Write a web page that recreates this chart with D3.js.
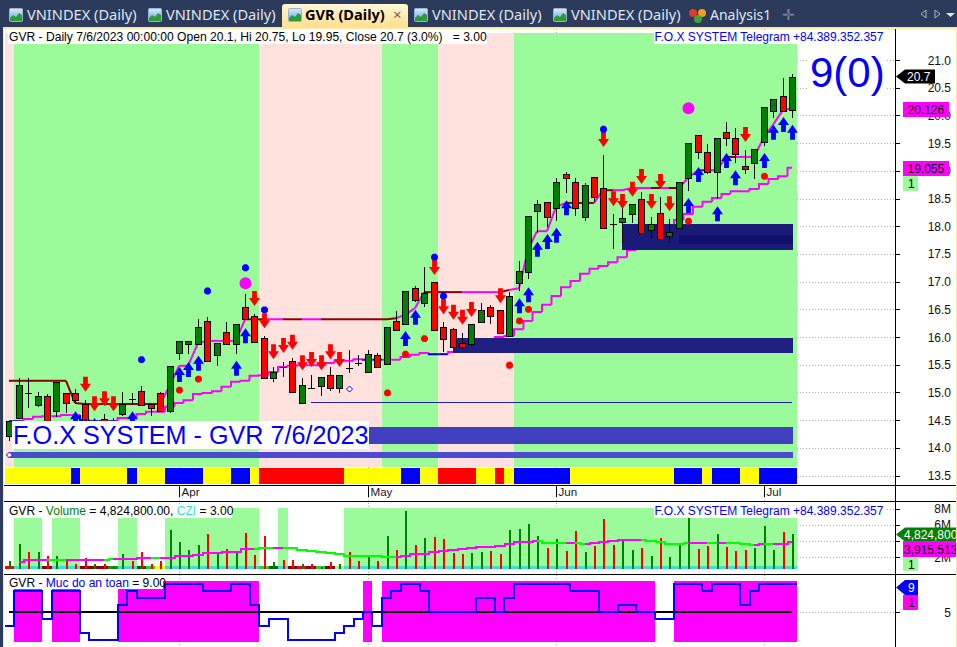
<!DOCTYPE html>
<html><head><meta charset="utf-8">
<script src="https://cdnjs.cloudflare.com/ajax/libs/d3/7.8.5/d3.min.js"></script>
<style>html,body{margin:0;padding:0;background:#fff;overflow:hidden}svg{display:block}text{font-family:"Liberation Sans",Arial,sans-serif}</style>
</head><body><svg id="c" width="957" height="647"></svg>
<script>
// ---------- data ----------
const opens=[14.21,14.53,14.99,14.77,14.94,14.66,14.99,14.99,14.79,14.32,14.52,14.32,14.61,14.88,15.02,14.79,14.99,14.66,15.71,15.87,15.87,16.29,15.68,16.09,15.87,16.54,16.38,15.98,15.26,15.46,15.57,14.81,15.08,15.11,15.31,15.08,15.44,15.53,15.37,15.68,15.51,16.29,16.23,16.88,16.61,16.99,16.18,16.14,15.89,15.87,16.27,16.54,16.49,16.02,16.97,17.17,18.27,18.44,18.33,18.94,18.80,18.17,18.89,18.69,18.04,18.08,18.22,18.49,17.93,18.24,17.82,17.97,18.87,19.65,19.34,18.98,19.70,19.59,19.09,19.14,19.52,20.08,20.35,20.10];
const highs=[14.48,15.26,15.26,15.01,14.97,15.19,14.99,15.06,14.86,14.50,14.61,14.54,15.01,14.99,15.11,14.81,15.01,15.48,15.93,15.93,16.32,16.36,15.89,16.27,16.23,16.78,16.41,16.02,15.46,15.55,15.62,15.26,15.31,15.28,15.46,15.31,15.76,15.68,15.76,15.71,16.18,16.47,16.83,16.92,17.26,16.99,16.27,16.16,16.07,16.23,16.61,16.58,16.49,16.81,17.37,18.18,18.47,18.44,18.87,18.98,18.87,18.78,18.89,19.28,18.22,18.33,18.40,18.62,18.17,18.53,18.13,18.80,19.50,19.65,19.48,19.59,19.88,19.77,19.38,19.39,20.15,20.30,20.68,20.75];
const lows=[14.12,14.52,14.72,14.74,14.38,14.56,14.63,14.79,14.43,14.28,14.28,14.27,14.57,14.77,14.77,14.57,14.65,14.63,15.59,15.69,15.87,15.57,15.48,15.87,15.69,16.32,15.91,15.26,15.19,15.28,14.99,14.81,15.08,14.94,15.02,14.99,15.35,15.48,15.37,15.44,15.51,16.13,16.23,16.63,16.54,16.13,15.73,15.82,15.78,15.84,16.27,16.23,16.07,16.02,16.83,17.05,17.88,17.99,18.09,18.60,18.18,18.09,18.44,17.97,17.59,17.70,18.06,17.88,17.79,17.77,17.70,17.97,18.63,19.21,18.94,18.49,19.45,19.14,18.94,18.85,19.45,19.95,20.08,19.95];
const closes=[14.48,15.13,14.99,14.94,14.41,15.19,14.81,14.86,14.47,14.47,14.32,14.47,14.79,14.88,14.77,14.72,14.66,15.48,15.93,15.93,16.18,15.57,15.89,15.87,16.23,16.32,15.91,15.26,15.37,15.46,15.01,15.13,15.08,15.28,15.08,15.31,15.44,15.53,15.69,15.46,16.18,16.13,16.83,16.67,16.79,16.13,15.96,15.82,15.82,16.23,16.49,16.38,16.07,16.74,17.19,18.18,18.40,18.17,18.80,18.87,18.33,18.74,18.53,17.97,18.04,18.15,18.40,17.88,18.04,17.77,17.90,18.80,19.50,19.34,18.98,19.59,19.59,19.30,19.03,19.39,20.15,20.30,20.08,20.70];
const volumes=[1.54,3.7,2.73,2.64,2.15,2.15,1.75,1.26,1.91,1.17,1.17,0.93,2.48,1.54,2.73,1.26,1.54,5.42,3.87,2.97,3.5,4.85,2.4,3.1,2.68,4.97,2.28,4.6,1.42,1.66,1.75,1.26,1.26,0.85,1.42,1.17,2.64,1.54,2.15,1.54,4.6,2.97,7.66,3.5,4.36,4.48,4.23,2.52,2.4,2.52,2.64,2.77,2.4,5.34,5.46,6.07,4.6,3.13,4.23,2.77,5.21,2.64,3.38,6.68,3.5,3.99,2.89,3.13,2.15,4.36,2.03,3.5,6.8,3.01,3.38,4.85,3.26,2.77,2.89,3.13,5.83,2.89,5.09,4.8248];
const volumeMA=[null,1.46,1.71,1.71,1.71,1.71,1.75,1.75,1.75,1.75,1.75,1.83,1.83,1.87,1.95,1.95,1.91,1.99,2.15,2.19,2.28,2.56,2.56,2.64,2.73,3.01,3.05,3.17,3.17,3.17,3.13,2.97,2.81,2.64,2.52,2.40,2.24,2.19,2.19,2.15,2.07,2.07,2.15,2.40,2.48,2.68,2.77,2.97,3.05,3.17,3.30,3.34,3.42,3.70,3.87,3.91,4.03,3.83,3.79,3.79,3.75,3.66,3.79,3.91,4.03,4.15,4.19,4.19,4.07,3.91,3.70,3.70,3.79,3.79,3.79,3.79,3.79,3.79,3.66,3.58,3.62,3.66,3.70,3.915513];
const maGreenBars=[5,6,11,16,27,28,30,31,32,33,34,35,36,37,38,39,40,41,57,58,59,61,68,69,70,71,72,75,77,78,79,81];
const upperLine=[15.21,15.21,15.21,15.21,15.21,15.21,15.21,14.81,14.79,14.79,14.79,14.79,14.79,14.79,14.79,14.79,14.79,15.13,15.48,15.48,15.89,15.93,15.93,15.93,15.93,16.32,16.32,16.32,16.32,16.32,16.32,16.32,16.32,16.32,16.32,16.32,16.32,16.32,16.32,16.32,16.32,16.34,16.40,16.52,16.81,16.81,16.81,16.81,16.81,16.81,16.81,16.81,16.81,16.85,16.88,17.57,17.91,17.91,18.35,18.42,18.42,18.42,18.42,18.65,18.65,18.65,18.69,18.69,18.69,18.69,18.69,18.69,18.87,19.01,19.01,19.01,19.25,19.25,19.25,19.25,19.61,19.83,20.10,20.126];
const upperDarkBars=[1,2,3,4,5,6,7,8,9,10,11,12,13,14,15,16,26,27,30,31,34,35,36,37,38,39,40,41,45,46,47,48,53,60,61,62,64,69,71,74,77];
const lowerLine=[14.48,14.48,14.52,14.56,14.57,14.57,14.59,14.59,14.50,14.48,14.48,14.48,14.54,14.54,14.61,14.65,14.65,14.74,14.81,14.86,14.97,14.99,15.02,15.10,15.19,15.21,15.30,15.31,15.37,15.46,15.48,15.49,15.49,15.49,15.53,15.57,15.57,15.60,15.59,15.59,15.59,15.59,15.64,15.68,15.71,15.69,15.69,15.73,15.80,15.86,15.91,15.95,16.00,16.02,16.14,16.29,16.45,16.58,16.74,16.90,17.01,17.14,17.23,17.28,17.35,17.44,17.57,17.66,17.75,17.88,18.00,18.11,18.22,18.35,18.44,18.51,18.58,18.63,18.63,18.67,18.76,18.85,18.90,19.055];
const lowerBlueBars=[1,8,9,10,11,38,39,45,46];
const safetyLevel=[3,8,8,8,4,8,8,8,2,1,1,1,6,8,7,7,7,9,9,9,9,8,8,8,9,9,6,3,4,4,1,1,1,1,1,2,3,4,5,3,7,8,9,9,8,5,5,5,5,5,7,7,5,7,9,9,9,9,9,9,8,8,8,5,5,6,6,5,5,4,4,9,9,9,8,9,9,9,6,8,9,9,9,9];
// [bar, price of the arrow tip]
const buyArrows=[[7,14.66],[8,14.54],[9,14.54],[11,14.52],[13,14.66],[17,14.48],[18,15.46],[19,15.55],[20,15.66],[24,15.57],[25,16.16],[42,16.11],[43,16.49],[54,16.70],[55,16.90],[56,17.72],[57,17.86],[58,17.97],[59,18.47],[72,18.51],[73,19.07],[75,18.36],[76,19.32],[77,19.01],[80,19.32],[81,19.83],[82,19.97],[83,19.83]];
const sellArrows=[[1,13.98],[8,15.01],[9,14.66],[10,14.75],[11,14.66],[26,16.56],[27,16.16],[28,15.60],[29,15.71],[30,15.77],[31,15.40],[32,15.46],[33,15.40],[34,15.60],[35,15.46],[45,17.12],[46,16.41],[47,16.31],[48,16.22],[49,16.36],[52,16.61],[63,19.43],[64,18.36],[65,18.31],[66,18.53],[67,18.76],[68,18.31],[69,18.67],[70,18.27],[78,19.52]];
const blueDots=[[14,15.59],[21,16.83],[25,17.25],[27,16.49],[45,17.44],[46,16.74],[63,19.75]];
const redDots=[[18,15.04],[20,15.24],[40,14.99],[42,15.69],[44,15.97],[53,15.49],[54,16.29],[55,16.50],[72,18.09],[80,18.90]];
const hollowDots=[[0,13.87],[36,15.06]];
const bigDots=[[8,14.09],[25,16.97],[72,20.13]];
const zones=[
 {from:0,to:83,top:13.92,bottom:13.82,fill:"#4b4bd2"},
 {from:38,to:83,top:14.38,bottom:14.07,fill:"#4040c0"},
 {from:47,to:83,top:15.98,bottom:15.71,fill:"#1f1f80"},
 {from:65,to:83,top:18.04,bottom:17.57,fill:"#1a1a78"},
 {from:71,to:83,top:17.84,bottom:17.68,fill:"#10106c"}];
const supportLevel=14.82, supportFrom=32;
const priceRegime=[["p",1],["g",26],["p",13],["g",6],["p",8],["g",30]];
const volumeRegimeGreen=[[1,3],[5,7],[12,13],[17,26],[29,29],[36,83]];
const safetyRegime=[[1,3],[5,7],[12,26],[38,38],[40,68],[71,83]];
const signalRuns=[["y",7],["b",1],["y",5],["b",1],["y",3],["b",4],["y",3],["b",2],["y",1],["r",9],["y",6],["b",2],["y",2],["r",4],["y",2],["r",1],["y",1],["b",6],["y",11],["b",3],["y",1],["b",3],["y",2],["b",4]];
const stripRuns=[["#ff0000",1],["#40e0d0",3],["#8b0000",1],["#40e0d0",3],["#8b0000",3],["#228b22",1],["#40e0d0",2],["#006400",1],["#32cd32",1],["#ffff00",1],["#40e0d0",10],["#32cd32",1],["#006400",1],["#40e0d0",1],["#8b0000",1],["#ff0000",1],["#8b0000",1],["#32cd32",1],["#8b0000",1],["#98fb98",1],["#40e0d0",48]];
const priceTicks=[21,20.5,20,19.5,19,18.5,18,17.5,17,16.5,16,15.5,15,14.5,14,13.5];
const volumeTicks=[8,6,4,2];
const months=[["Apr",18],["May",38],["Jun",58],["Jul",80]];
const tabs=[["VNINDEX (Daily)",9],["VNINDEX (Daily)",148],["GVR (Daily)",288],["VNINDEX (Daily)",414],["VNINDEX (Daily)",553]];

// ---------- scales ----------
const svg=d3.select("#c");
const N=opens.length, idx=d3.range(N);
const xB=d3.scaleBand().domain(idx).range([4.6,4.6+N*9.43]);
const cx=i=>Math.round(xB(i)+xB.bandwidth()/2);
const left=i=>Math.round(xB(i)), right=i=>Math.round(xB(i)+xB.bandwidth());
const y=d3.scaleLinear().domain([21,13.5]).range([60,475.5]);
const yv=d3.scaleLinear().domain([0.65,8]).range([568.5,508.5]);
const ys=d3.scaleLinear().domain([5,9]).range([612,584]);
const G="#008000",R="#ff0000",M="#ff00ff",LG="#9bfb9b",PK="#ffe1de",Navy="#2c3a5b",Cream="#ffe6a4",B="#0000ff";
const gridC="#aeaeae";
const runsToBars=r=>{let o=[],k=0;r.forEach(([c,n])=>{o.push({c,a:k,b:k+n-1});k+=n});return o};
const crispG=()=>svg.append("g").attr("shape-rendering","crispEdges");
const dotted=(sel)=>sel.attr("stroke",gridC).attr("stroke-dasharray","1,2");

// ---------- background ----------
svg.append("rect").attr("width",957).attr("height",647).attr("fill","#fff");
dotted(svg.append("g").selectAll("line").data(months).join("line")
 .attr("x1",d=>cx(d[1])+.5).attr("x2",d=>cx(d[1])+.5).attr("y1",29).attr("y2",647));
const bars=crispG();
bars.selectAll(".r").data(runsToBars(priceRegime)).join("rect").attr("class","r")
 .attr("x",d=>left(d.a)).attr("width",d=>right(d.b)-left(d.a)).attr("y",33).attr("height",434)
 .attr("fill",d=>d.c=="g"?LG:PK);
bars.selectAll(".s").data(runsToBars(signalRuns)).join("rect").attr("class","s")
 .attr("x",d=>left(d.a)).attr("width",d=>right(d.b)-left(d.a)).attr("y",468).attr("height",16)
 .attr("fill",d=>({y:"#ffff00",b:B,r:R})[d.c]);
dotted(svg.append("g").selectAll("line").data(priceTicks).join("line")
 .attr("x1",797).attr("x2",895).attr("y1",d=>Math.round(y(d))+.5).attr("y2",d=>Math.round(y(d))+.5));

// ---------- price lines ----------
const lp=svg.append("g").attr("fill","none").attr("stroke-width",2);
lp.selectAll(".u").data(idx.slice(1)).join("path").attr("class","u")
 .attr("d",i=>`M${cx(i-1)},${y(upperLine[i-1])}L${cx(i)},${y(upperLine[i])}`)
 .attr("stroke",i=>upperDarkBars.includes(i)?"#8b0000":M);
const stepLower=i=>{const mid=(cx(i-1)+cx(i))/2;return `M${i==1?cx(0):mid},${y(lowerLine[i-1])}H${mid}V${y(lowerLine[i])}H${i==N-1?cx(i):(cx(i)+cx(i+1))/2}`};
lp.selectAll(".l").data(idx.slice(1)).join("path").attr("class","l")
 .attr("d",stepLower).attr("stroke",i=>lowerBlueBars.includes(i)?"#0000d0":M);

// ---------- zones ----------
const zg=crispG();
zg.selectAll("rect").data(zones).join("rect")
 .attr("x",d=>cx(d.from)).attr("width",d=>cx(d.to)+1-cx(d.from)).attr("y",d=>y(d.top)).attr("height",d=>y(d.bottom)-y(d.top)).attr("fill",d=>d.fill);
zg.append("line").attr("x1",cx(supportFrom)).attr("x2",cx(N-1)).attr("y1",Math.round(y(supportLevel))+.5).attr("y2",Math.round(y(supportLevel))+.5).attr("stroke","#2020a0");

// ---------- candles ----------
const cg=crispG();
const pr=v=>Math.round(y(v));
cg.selectAll(".w").data(idx).join("line").attr("class","w")
 .attr("x1",i=>cx(i)+.5).attr("x2",i=>cx(i)+.5).attr("y1",i=>pr(highs[i])).attr("y2",i=>pr(lows[i])).attr("stroke","#000");
const doji=idx.filter(i=>opens[i]==closes[i]);
const bodies=idx.filter(i=>opens[i]!=closes[i]);
cg.selectAll(".b").data(bodies).join("rect").attr("class","b")
 .attr("x",i=>cx(i)-3+.5).attr("width",6)
 .attr("y",i=>pr(Math.max(opens[i],closes[i]))+.5).attr("height",i=>pr(Math.min(opens[i],closes[i]))-pr(Math.max(opens[i],closes[i])))
 .attr("fill",i=>closes[i]>opens[i]?G:R).attr("stroke","#000").attr("stroke-width",1);
cg.selectAll(".d").data(doji).join("line").attr("class","d")
 .attr("x1",i=>cx(i)-3).attr("x2",i=>cx(i)+4).attr("y1",i=>pr(opens[i])+.5).attr("y2",i=>pr(opens[i])+.5).attr("stroke","#000");

// ---------- markers ----------
const mk=svg.append("g");
const arrow=d=>`M0,0L5.5,${8*d}H2.4V${15*d}H-2.4V${8*d}H-5.5Z`;
const place=d=>`translate(${cx(d[0])+.5},${y(d[1])})`;
mk.selectAll(".ab").data(buyArrows).join("path").attr("class","ab").attr("d",arrow(1)).attr("fill",B).attr("transform",place);
mk.selectAll(".as").data(sellArrows).join("path").attr("class","as").attr("d",arrow(-1)).attr("fill",R).attr("transform",place);
const octo="M-1.5,-3.4H1.5L3.4,-1.5V1.5L1.5,3.4H-1.5L-3.4,1.5V-1.5Z";
const diamond="M0,-3L3,0L0,3L-3,0Z";
mk.selectAll(".db").data(blueDots).join("path").attr("class","db").attr("d",octo).attr("fill",B).attr("transform",place);
mk.selectAll(".dr").data(redDots).join("path").attr("class","dr").attr("d",octo).attr("fill",R).attr("transform",place);
mk.selectAll(".dh").data(hollowDots).join("path").attr("class","dh").attr("d",diamond).attr("fill","#fff").attr("stroke",B).attr("transform",place);
mk.selectAll(".big").data(bigDots).join("circle").attr("class","big").attr("r",6).attr("fill",M).attr("cx",d=>cx(d[0])+.5).attr("cy",d=>y(d[1]));

// text helpers
function box(x,yy,w,h,fill){return svg.append("rect").attr("x",x).attr("y",yy).attr("width",w).attr("height",h).attr("fill",fill).attr("shape-rendering","crispEdges")}
function label(x,yy,t,size,fill,anchor){return svg.append("text").attr("x",x).attr("y",yy).attr("font-size",size).attr("fill",fill||"#000").attr("text-anchor",anchor||"start").text(t)}
function rich(x,yy,size,parts){const e=svg.append("text").attr("x",x).attr("y",yy).attr("font-size",size).style("white-space","pre");parts.forEach(([t,c])=>e.append("tspan").attr("fill",c).text(t));return e}
const FS=12.05, AX=12;

// overlay text on the price pane
box(12,421,357,28,"#fff");
label(13,444,"F.O.X SYSTEM - GVR 7/6/2023",25.2,B);
box(8,29,479,15,"#fff");
rich(9,41,12.1,[["GVR - Daily 7/6/2023 00:00:00 Open 20.1, Hi 20.75, Lo 19.95, Close 20.7 (3.0%)   = 3.00","#000"]]);
box(654,30,231,14,"#fff");
label(654.5,41,"F.O.X SYSTEM Telegram +84.389.352.357",12,B);
box(808,50,77,50,"#fff");
label(810,86.5,"9(0)",42,B);

// ---------- volume pane ----------
const vg=crispG();
volumeRegimeGreen.forEach(([a,b])=>vg.append("rect").attr("x",left(a)).attr("width",right(b)-left(a)).attr("y",508).attr("height",61).attr("fill",LG));
vg.selectAll(".st").data(runsToBars(stripRuns)).join("rect").attr("class","st")
 .attr("x",d=>left(d.a)).attr("width",d=>right(d.b)-left(d.a)).attr("y",566).attr("height",3).attr("fill",d=>d.c);
dotted(svg.append("g").selectAll("line").data(volumeTicks).join("line")
 .attr("x1",797).attr("x2",895).attr("y1",d=>Math.round(yv(d))+.5).attr("y2",d=>Math.round(yv(d))+.5));
vg.selectAll(".vb").data(idx).join("rect").attr("class","vb")
 .attr("x",i=>cx(i)).attr("width",2).attr("y",i=>Math.round(yv(volumes[i]))).attr("height",i=>569-Math.round(yv(volumes[i])))
 .attr("fill",i=>closes[i]>opens[i]?G:R);
const mg=svg.append("g").attr("fill","none").attr("stroke-width",2).attr("shape-rendering","crispEdges");
mg.selectAll("path").data(idx.slice(2)).join("path")
 .attr("d",i=>`M${cx(i-1)},${Math.round(yv(volumeMA[i-1]))}H${(cx(i-1)+cx(i))/2}V${Math.round(yv(volumeMA[i]))}H${cx(i)}`)
 .attr("stroke",i=>maGreenBars.includes(i)?"#00ff00":M);
box(8,505,224,13,"#fff");
rich(9,515,FS,[["GVR - ","#000"],["Volume",G],[" = 4,824,800.00, ","#000"],["CZI","#40e0d0"],[" = 3.00","#000"]]);
box(654,505,231,13,"#fff");
label(654.5,515,"F.O.X SYSTEM Telegram +84.389.352.357",12,B);

// ---------- safety pane ----------
const sg=crispG();
safetyRegime.forEach(([a,b])=>sg.append("rect").attr("x",left(a)).attr("width",right(b)-left(a)).attr("y",581).attr("height",61).attr("fill",M));
sg.append("line").attr("x1",cx(0)).attr("x2",cx(N-1)).attr("y1",ys(5)).attr("y2",ys(5)).attr("stroke","#000").attr("stroke-width",2);
const stepData=idx.map(i=>[left(i),safetyLevel[i]]).concat([[right(N-1),safetyLevel[N-1]]]);
sg.append("path").attr("d",d3.line().x(d=>d[0]).y(d=>ys(d[1])).curve(d3.curveStepAfter)(stepData))
 .attr("fill","none").attr("stroke",B).attr("stroke-width",2);
box(8,576,155,13,"#fff");
rich(9,587,FS,[["GVR - ","#000"],["Muc do an toan",B],[" = 9.00","#000"]]);
dotted(svg.append("line").attr("x1",797).attr("x2",895).attr("y1",612.5).attr("y2",612.5));

// ---------- frames and axes ----------
const frames=crispG().attr("stroke","#000");
[485,501,574].forEach(v=>frames.append("line").attr("x1",4).attr("x2",956).attr("y1",v+.5).attr("y2",v+.5));
frames.append("line").attr("x1",895.5).attr("x2",895.5).attr("y1",29).attr("y2",647);
months.forEach(([t,i])=>{
 frames.append("line").attr("x1",cx(i)+.5).attr("x2",cx(i)+.5).attr("y1",485).attr("y2",497);
 label(cx(i)+2.5,495.5,t,11.6,"#1a1a1a");
});
const aright=951;
priceTicks.forEach(t=>{
 frames.append("line").attr("x1",895).attr("x2",900).attr("y1",Math.round(y(t))+.5).attr("y2",Math.round(y(t))+.5);
 label(aright,y(t)+4.5,t.toFixed(1),AX,"#111","end");
});
volumeTicks.forEach(t=>{
 frames.append("line").attr("x1",895).attr("x2",900).attr("y1",Math.round(yv(t))+.5).attr("y2",Math.round(yv(t))+.5);
 label(aright,yv(t)+4.5,t+"M",AX,"#111","end");
});
frames.append("line").attr("x1",895).attr("x2",900).attr("y1",612.5).attr("y2",612.5);
label(951,616.5,"5",AX,"#111","end");

// value flags
function flag(x0,x1,yc,h,fill,t,color,tx){
 svg.append("path").attr("d",`M${x0},${yc}L${x0+9},${yc-h/2}H${x1}V${yc+h/2}H${x0+9}Z`).attr("fill",fill);
 label(tx,yc+4.5,t,AX,color);
}
function tag(x0,x1,y0,h,fill,t,tx){
 box(x0,y0,x1-x0,h,fill);
 label(tx,y0+h/2+4.5,t,AX,"#000");
}
flag(896,935,y(20.7),14,"#000","20.7","#fff",907);
tag(903,949,102,15,M,"20.126",907.5);
tag(903,949,161,15,M,"19.055",907.5);
tag(903,918,176,15,LG,"1",908);
flag(896,957,yv(4.8248),14,G,"4,824,800","#fff",904);
tag(903,957,541,16,M,"3,915,513",904);
tag(903,918,557,14,LG,"1",908);
flag(896,918,587.5,15,B,"9","#fff",908);
tag(903,918,595,15,M,"1",908);

// ---------- window chrome ----------
box(0,0,957,27,Navy);
box(0,0,3,647,Navy);
box(3,27,954,2,Cream);
box(3,27,1,620,Cream);
box(955.5,27,1.5,620,Cream);
const defs=svg.append("defs");
const grad=defs.append("linearGradient").attr("id","tabg").attr("x1",0).attr("y1",0).attr("x2",0).attr("y2",1);
grad.append("stop").attr("offset",0).attr("stop-color","#fff7d8");
grad.append("stop").attr("offset",1).attr("stop-color","#ffdf90");
svg.append("path").attr("d","M282,27V7Q282,4 285,4H405Q408,4 408,7V27Z").attr("fill","url(#tabg)");
const icong=defs.append("linearGradient").attr("id","ic").attr("x1",0).attr("y1",0).attr("x2",0).attr("y2",1);
icong.append("stop").attr("offset",0).attr("stop-color","#dceafc");icong.append("stop").attr("offset",1).attr("stop-color","#5f9fe0");
const sans='"Noto Sans","Open Sans",sans-serif';
tabs.forEach(([t,x])=>{
 const active=t.startsWith("GVR");
 svg.append("rect").attr("x",x+.5).attr("y",8.5).attr("width",13).attr("height",13).attr("rx",1).attr("fill","url(#ic)").attr("stroke","#9bb2cc");
 svg.append("path").attr("d",`M${x+1},21V18L${x+4},15L${x+7},17L${x+10},13L${x+13},15V21Z`).attr("fill","#2f9a3a");
 const e=svg.append("text").attr("x",x+(active?17:18)).attr("y",20).attr("font-size",14.6).attr("fill",active?"#000":"#dfe6f2").text(t).style("font-family",sans);
 if(active)e.attr("font-weight","bold");
});
svg.append("text").attr("x",393).attr("y",20).attr("font-size",15).attr("fill","#6b6246").text("\u00d7").style("font-family",sans);
[[693,13,"#e23a2c"],[702,13,"#f0a020"],[698,19,"#3aa63a"]].forEach(([x,yy,c])=>svg.append("circle").attr("cx",x).attr("cy",yy).attr("r",4).attr("fill",c));
svg.append("text").attr("x",710).attr("y",20).attr("font-size",14).attr("fill","#dfe6f2").text("Analysis1").style("font-family",sans);
svg.append("text").attr("x",782).attr("y",20).attr("font-size",15).attr("fill","#7d8799").text("\u271b").style("font-family",'"DejaVu Sans",sans-serif');
svg.append("path").attr("d","M926,10L921,14L926,18Z").attr("fill","none").attr("stroke","#aeb6c6");
svg.append("path").attr("d","M935,10L940,14L935,18Z").attr("fill","none").attr("stroke","#aeb6c6");
svg.append("path").attr("d","M946,13H955L950.5,17Z").attr("fill","#e0e4ec");
</script></body></html>
